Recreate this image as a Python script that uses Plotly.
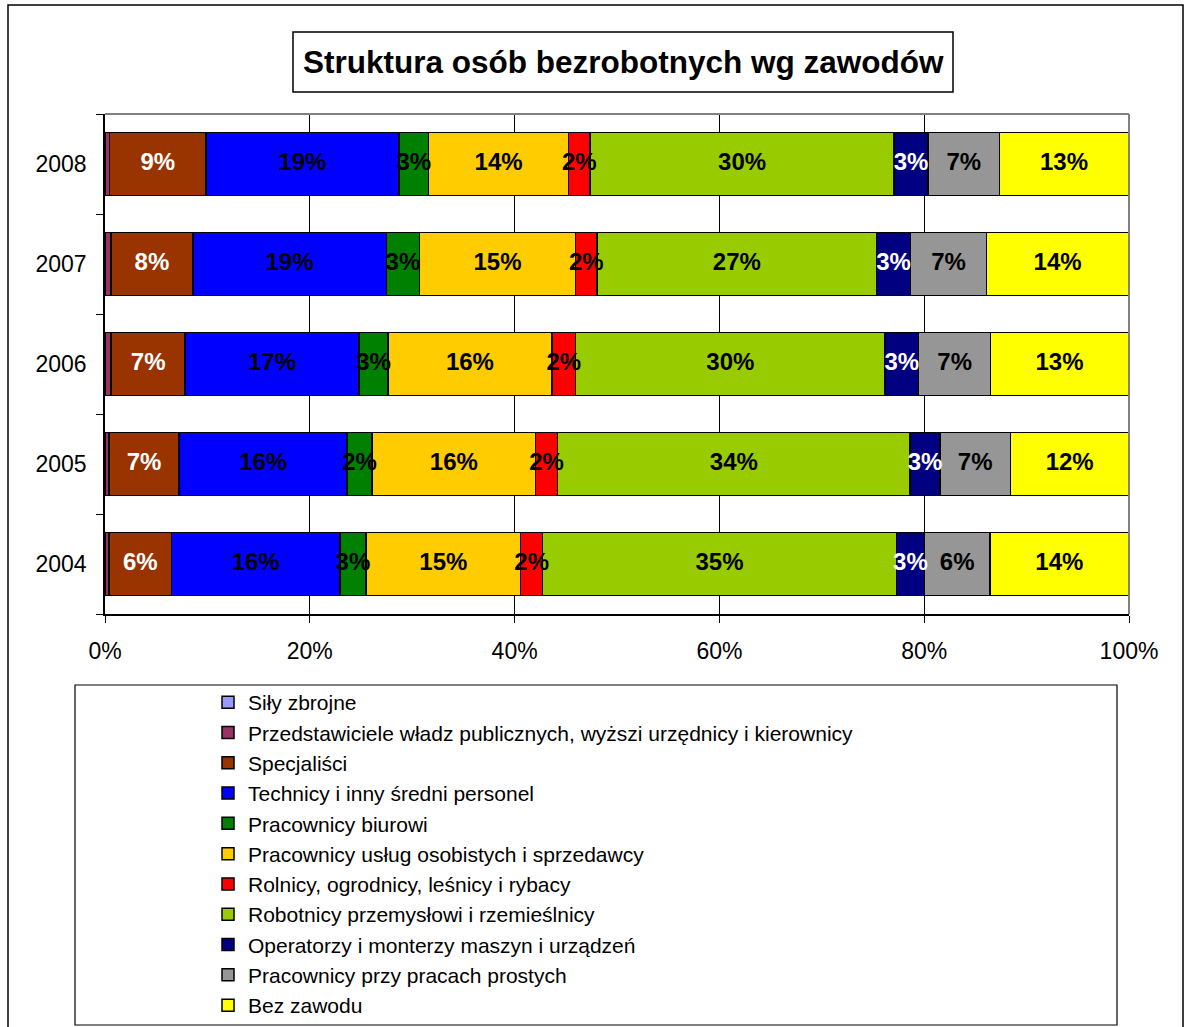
import plotly.graph_objects as go

years = ["2004", "2005", "2006", "2007", "2008"]

sily_zbrojne = [0.05, 0.05, 0.05, 0.05, 0.05]
przedstawiciele = [0.35, 0.35, 0.55, 0.55, 0.40]
specjalisci = [6.09, 6.84, 7.23, 7.97, 9.40]
technicy = [16.45, 16.40, 16.96, 18.90, 18.85]
biurowi = [2.55, 2.45, 2.86, 3.25, 2.90]
uslugi = [15.10, 15.95, 15.98, 15.23, 13.67]
rolnicy = [2.15, 2.15, 2.34, 2.10, 2.10]
robotnicy = [34.55, 34.44, 30.20, 27.30, 29.70]
operatorzy = [2.73, 2.90, 3.29, 3.30, 3.30]
proste = [6.40, 6.90, 7.03, 7.45, 7.00]
bez_zawodu = [13.55, 11.55, 13.45, 13.85, 12.57]

x_ticks = [0, 20, 40, 60, 80, 100]
x_tick_labels = ["0%", "20%", "40%", "60%", "80%", "100%"]

series = [
    ("Siły zbrojne", sily_zbrojne, "#9999FF", None),
    ("Przedstawiciele władz publicznych, wyższi urzędnicy i kierownicy", przedstawiciele, "#993366", None),
    ("Specjaliści", specjalisci, "#993300", "white"),
    ("Technicy i inny średni personel", technicy, "#0000FF", "black"),
    ("Pracownicy biurowi", biurowi, "#008000", "black"),
    ("Pracownicy usług osobistych i sprzedawcy", uslugi, "#FFCC00", "black"),
    ("Rolnicy, ogrodnicy, leśnicy i rybacy", rolnicy, "#FF0000", "black"),
    ("Robotnicy przemysłowi i rzemieślnicy", robotnicy, "#99CC00", "black"),
    ("Operatorzy i monterzy maszyn i urządzeń", operatorzy, "#000080", "white"),
    ("Pracownicy przy pracach prostych", proste, "#969696", "black"),
    ("Bez zawodu", bez_zawodu, "#FFFF00", "black"),
]

FONT = "Liberation Sans, Arial, sans-serif"

# pixel -> paper helpers (plot area: x 105..1129, y 114..614)
L, R, T, B = 105, 1129, 114, 614
W, H = 1190, 1027
def px(x):
    return (x - L) / (R - L)
def py(y):
    return (B - y) / (B - T)

fig = go.Figure()
for name, vals, color, tcolor in series:
    fig.add_trace(go.Bar(
        y=years, x=vals, name=name, orientation="h",
        marker=dict(color=color, line=dict(color="black", width=1.5)),
        textposition="none", hoverinfo="skip"))

# data labels on top of all bars (centre of each stacked segment)
base = [0.0] * len(years)
label_traces = []
for name, vals, color, tcolor in series:
    mids = [b + v / 2 for b, v in zip(base, vals)]
    if tcolor is not None:
        label_traces.append(go.Scatter(
            x=mids, y=years, mode="text", customdata=vals,
            texttemplate="<b>%{customdata:.0f}%</b>",
            textposition="middle center",
            textfont=dict(family=FONT, size=24, color=tcolor),
            showlegend=False, hoverinfo="skip", cliponaxis=False))
    base = [b + v for b, v in zip(base, vals)]
for t in label_traces:
    fig.add_trace(t)

fig.update_layout(
    width=W, height=H,
    margin=dict(l=L, r=W - R, t=T, b=H - B, autoexpand=False),
    barmode="stack", bargap=0.37,
    plot_bgcolor="white", paper_bgcolor="white",
    font=dict(family=FONT, size=23, color="black"),
    showlegend=True,
    legend=dict(x=px(208), y=py(682), xanchor="left", yanchor="top",
                orientation="v", traceorder="normal",
                font=dict(family=FONT, size=21, color="black"),
                bgcolor="rgba(0,0,0,0)", borderwidth=0),
    xaxis=dict(range=[0, 100], tickvals=x_ticks, ticktext=x_tick_labels,
               showgrid=True, gridcolor="#000000", gridwidth=1,
               showline=True, linecolor="black", linewidth=1.5,
               ticks="outside", ticklen=7, tickcolor="black",
               ticklabelstandoff=9, zeroline=False, fixedrange=True),
    yaxis=dict(categoryorder="array", categoryarray=years,
               showline=True, linecolor="black", linewidth=1.5,
               ticks="outside", ticklen=7, tickcolor="black",
               tickson="boundaries", ticklabelstandoff=12,
               showgrid=False, fixedrange=True),
    shapes=[
        # outer chart border
        dict(type="rect", xref="paper", yref="paper", x0=px(8), x1=px(1183),
             y0=py(5), y1=py(1045), line=dict(color="black", width=1.5)),
        # title box
        dict(type="rect", xref="paper", yref="paper", x0=px(293), x1=px(953),
             y0=py(32), y1=py(92), line=dict(color="black", width=1.5)),
        # plot area top / right border
        dict(type="line", xref="paper", yref="paper", x0=0, x1=1, y0=1, y1=1,
             line=dict(color="#808080", width=2)),
        dict(type="line", xref="paper", yref="paper", x0=1, x1=1, y0=0, y1=1,
             line=dict(color="#808080", width=2)),
        # legend box
        dict(type="rect", xref="paper", yref="paper", x0=px(75), x1=px(1117),
             y0=py(685), y1=py(1025), line=dict(color="black", width=1.2)),
    ],
    annotations=[
        dict(text="<b>Struktura osób bezrobotnych wg zawodów</b>",
             xref="paper", yref="paper", x=px(623), y=py(62),
             xanchor="center", yanchor="middle", showarrow=False,
             font=dict(family=FONT, size=31.5, color="black")),
    ],
)

fig.write_html("out.html", config={"displayModeBar": False},
               post_script="document.body.style.margin='0px';")
